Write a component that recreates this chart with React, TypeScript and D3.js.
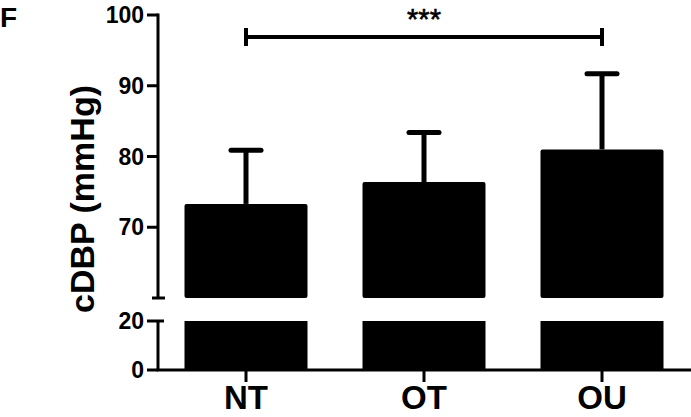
import React from "react";
import * as d3 from "d3";

const categories = ["NT", "OT", "OU"];
const means = [73.3, 76.4, 81.0];
const sds = [7.6, 7.0, 10.7];
const upperTicks = [70, 80, 90, 100];
const lowerTicks = [0, 20];
const upperDomain: [number, number] = [60, 100];
const lowerDomain: [number, number] = [0, 20];
const sigPair = ["NT", "OU"];
const sigLabel = "***";
const yLabel = "cDBP (mmHg)";
const panelLabel = "F";

const W = 691;
const H = 417;
const axisX = 158;
const font = "'Liberation Sans', Arial, sans-serif";

export default function App() {
  const yU = d3.scaleLinear().domain(upperDomain).range([298, 15]);
  const yL = d3.scaleLinear().domain(lowerDomain).range([370, 321]);
  const x = d3
    .scaleBand<string>()
    .domain(categories)
    .range([157, 691])
    .paddingInner(0.309)
    .paddingOuter(0.1545);
  const bw = x.bandwidth();
  const cx = (c: string) => (x(c) as number) + bw / 2;
  const sigY = 37;

  return (
    <svg
      width={W}
      height={H}
      style={{ position: "absolute", left: 0, top: 0, background: "#fff" }}
    >
      {/* bars */}
      {categories.map((c, i) => (
        <g key={c}>
          <rect
            x={x(c)}
            y={yU(means[i])}
            width={bw}
            height={yU(upperDomain[0]) - yU(means[i])}
            fill="#000"
            rx={2}
          />
          <rect
            x={x(c)}
            y={yL(lowerDomain[1])}
            width={bw}
            height={yL(0) - yL(lowerDomain[1])}
            fill="#000"
          />
          <line
            x1={cx(c)}
            x2={cx(c)}
            y1={yU(means[i])}
            y2={yU(means[i] + sds[i])}
            stroke="#000"
            strokeWidth={5}
          />
          <line
            x1={cx(c) - 15}
            x2={cx(c) + 15}
            y1={yU(means[i] + sds[i])}
            y2={yU(means[i] + sds[i])}
            stroke="#000"
            strokeWidth={5}
            strokeLinecap="round"
          />
          <line
            x1={cx(c)}
            x2={cx(c)}
            y1={370}
            y2={382}
            stroke="#000"
            strokeWidth={3}
          />
          <text
            x={cx(c)}
            y={409}
            textAnchor="middle"
            fontFamily={font}
            fontWeight="bold"
            fontSize={33}
          >
            {c}
          </text>
        </g>
      ))}

      {/* y axis upper */}
      <line x1={axisX} x2={axisX} y1={yU(100) - 1.5} y2={yU(60)} stroke="#000" strokeWidth={3} />
      <line x1={152} x2={165} y1={yU(60)} y2={yU(60)} stroke="#000" strokeWidth={3} />
      {upperTicks.map((t) => (
        <g key={t}>
          <line x1={147} x2={axisX} y1={yU(t)} y2={yU(t)} stroke="#000" strokeWidth={3} />
          <text
            x={144}
            y={yU(t) + 8}
            textAnchor="end"
            fontFamily={font}
            fontWeight="bold"
            fontSize={23}
          >
            {t}
          </text>
        </g>
      ))}

      {/* y axis lower */}
      <line x1={axisX} x2={axisX} y1={yL(20)} y2={yL(0)} stroke="#000" strokeWidth={3} />
      <line x1={axisX} x2={164} y1={yL(20)} y2={yL(20)} stroke="#000" strokeWidth={3} />
      {lowerTicks.map((t) => (
        <g key={t}>
          <line x1={147} x2={axisX} y1={yL(t)} y2={yL(t)} stroke="#000" strokeWidth={3} />
          <text
            x={144}
            y={yL(t) + 8}
            textAnchor="end"
            fontFamily={font}
            fontWeight="bold"
            fontSize={23}
          >
            {t}
          </text>
        </g>
      ))}

      {/* x axis */}
      <line x1={axisX - 1.5} x2={W} y1={yL(0)} y2={yL(0)} stroke="#000" strokeWidth={3} />

      {/* significance */}
      <line x1={cx(sigPair[0])} x2={cx(sigPair[1])} y1={sigY} y2={sigY} stroke="#000" strokeWidth={4} />
      <line x1={cx(sigPair[0])} x2={cx(sigPair[0])} y1={sigY - 9} y2={sigY + 9} stroke="#000" strokeWidth={4} />
      <line x1={cx(sigPair[1])} x2={cx(sigPair[1])} y1={sigY - 9} y2={sigY + 9} stroke="#000" strokeWidth={4} />
      <text
        x={(cx(sigPair[0]) + cx(sigPair[1])) / 2}
        y={29}
        textAnchor="middle"
        fontFamily={font}
        fontSize={29}
        stroke="#000"
        strokeWidth={0.6}
      >
        {sigLabel}
      </text>

      {/* y label */}
      <text
        transform={`translate(94, 199) rotate(-90)`}
        textAnchor="middle"
        fontFamily={font}
        fontWeight="bold"
        fontSize={34}
      >
        {yLabel}
      </text>

      <text x={0} y={27} fontFamily={font} fontWeight="bold" fontSize={28}>
        {panelLabel}
      </text>
    </svg>
  );
}
